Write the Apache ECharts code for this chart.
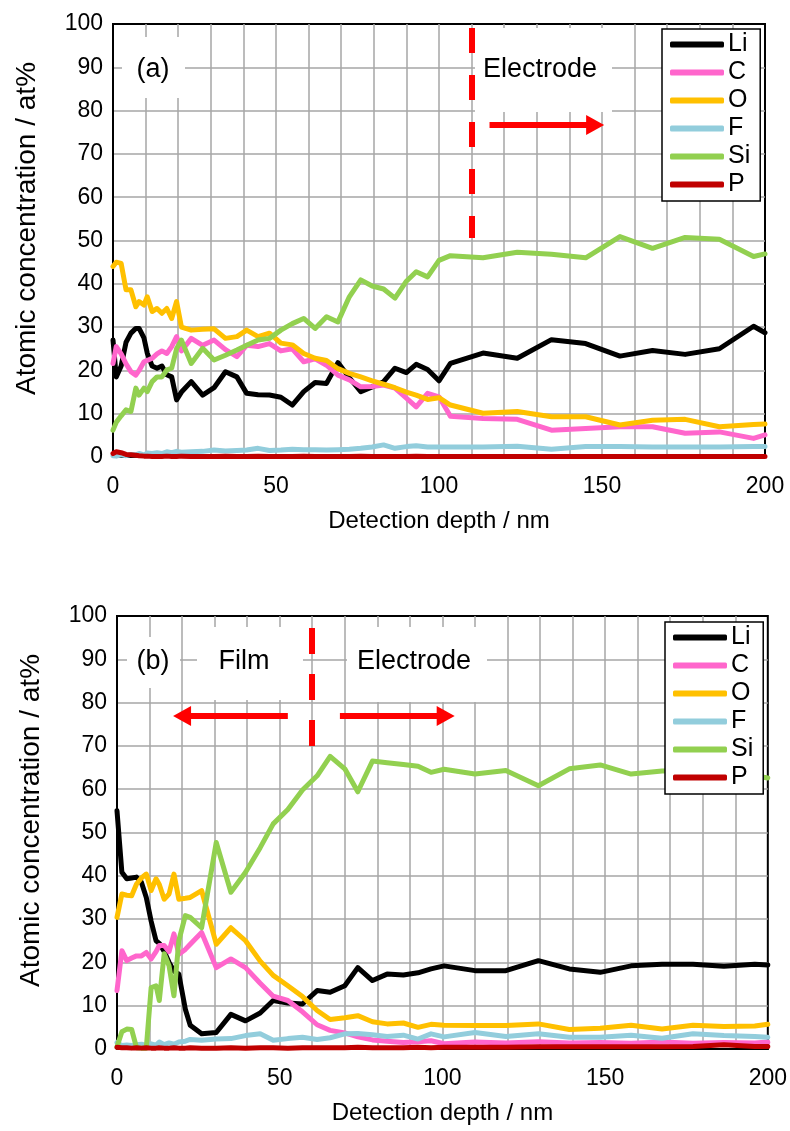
<!DOCTYPE html>
<html>
<head>
<meta charset="utf-8">
<title>Depth profile</title>
<script src="https://cdn.jsdelivr.net/npm/echarts@6/dist/echarts.min.js"></script>
<style>
  html, body { margin: 0; padding: 0; background: #fff; }
  #chart { width: 790px; height: 1131px; }
</style>
</head>
<body>
<div id="chart"></div>
<script>
// panel (a)
var depthA = [0, 1, 2.5, 4, 5.5, 7, 8, 9.5, 10.5, 12, 13.5, 15, 16.5, 18, 19.5, 21, 24, 27.5, 31, 34.5,
  38, 41, 44.5, 48, 51.5, 55, 58.5, 62, 65.5, 69, 72.5, 76, 79.5, 83, 86.5, 90, 93, 96.5, 100, 103.5,
  113.5, 124, 134.5, 145, 155.5, 165.5, 175.5, 186, 196.5, 200];
var liA = [27, 18.5, 21, 26.5, 28.6, 29.7, 29.7, 27.5, 24, 21, 20.5, 21, 19, 18.5, 13.2, 15, 17.4, 14.3, 16, 19.7,
  18.5, 14.7, 14.4, 14.3, 13.8, 12, 15.1, 17.2, 17, 21.8, 18.3, 15.1, 16.2, 17.4, 20.5, 19.5, 21.4, 20.2, 17.6, 21.6,
  24, 22.8, 27.1, 26.2, 23.3, 24.6, 23.7, 25, 30.2, 28.7];
var cA = [21.6, 25.5, 23.8, 21.5, 19.7, 18.9, 20, 22, 22.3, 22.8, 23.8, 24.5, 23.9, 25.5, 27.8, 24.5, 27.4, 25.8, 27, 24.8,
  23.2, 25.8, 25.5, 26.2, 24.5, 25, 22, 22.7, 21.2, 18.9, 17.8, 16.2, 16.3, 16.6, 15.9, 13.6, 11.6, 14.7, 13.9, 9.4,
  8.9, 8.7, 6.2, 6.6, 7, 7, 5.5, 5.8, 4.3, 5.1];
var oA = [44, 45, 44.7, 38.6, 38.6, 34.7, 35.9, 35.1, 37, 33.6, 34.3, 33.2, 34.3, 32, 35.9, 30, 29.3, 29.5, 29.6, 27.4,
  27.8, 29.3, 27.8, 28.6, 26.3, 25.9, 23.9, 22.8, 22.3, 20.4, 19.3, 18.5, 17.6, 16.8, 16, 15, 14.3, 13.3, 13.7, 12,
  10.1, 10.5, 9.3, 9.3, 7.4, 8.5, 8.7, 7, 7.5, 7.6];
var fA = [0.3, 0.2, 0.5, 0.3, 0.6, 0.5, 0.8, 0.5, 0.9, 0.8, 1.0, 0.8, 1.2, 1.0, 1.3, 1.1, 1.2, 1.3, 1.6, 1.4,
  1.5, 1.6, 2.0, 1.5, 1.6, 1.8, 1.7, 1.7, 1.6, 1.7, 1.8, 2.0, 2.3, 2.8, 2.0, 2.4, 2.6, 2.3, 2.3, 2.3,
  2.3, 2.5, 1.8, 2.4, 2.4, 2.3, 2.3, 2.3, 2.4, 2.4];
var siA = [6.2, 8, 9.5, 10.9, 10.5, 15.9, 14.3, 15.9, 15.1, 17.4, 18.5, 18.5, 20.1, 20.5, 25, 27, 21.6, 25.1, 22.4, 23.5,
  24.7, 25.8, 27, 27.4, 29.3, 30.8, 32, 29.7, 32.4, 31.2, 37, 40.9, 39.5, 38.8, 36.7, 40.6, 42.8, 41.6, 45.4, 46.5,
  46, 47.3, 46.8, 46, 50.9, 48.2, 50.7, 50.3, 46.3, 46.9];
var pA = [0.8, 1.2, 1.0, 0.6, 0.5, 0.4, 0.3, 0.2, 0.2, 0.1, 0.1, 0.1, 0.2, 0.1, 0.1, 0.2, 0.1, 0.1, 0.1, 0.2,
  0.1, 0.1, 0.2, 0.1, 0.1, 0.1, 0.2, 0.1, 0.1, 0.1, 0.1, 0.2, 0.1, 0.1, 0.1, 0.1, 0.2, 0.1, 0.1, 0.1,
  0.1, 0.1, 0.1, 0.1, 0.1, 0.1, 0.1, 0.1, 0.1, 0.1];

// panel (b)
var depthB = [0, 1.5, 3, 4.5, 6, 7.5, 9, 10.5, 12, 13, 14.5, 16, 17.5, 19, 21, 22.5, 26, 30.5, 35, 39.5,
  44, 48, 52.5, 57, 61.5, 65.5, 70, 74, 78.5, 83, 88, 92.5, 96.5, 100.5, 110, 119.5, 129.5, 139, 148.5, 158,
  167.5, 177, 186.5, 196, 200];
var liB = [55, 40.8, 39.3, 39.5, 39.7, 38.5, 35, 29.5, 25, 24.4, 22.5, 20, 18, 17.3, 9.2, 5.5, 3.5, 3.8, 8, 6.5,
  8.3, 11.2, 10.6, 10.4, 13.5, 13.1, 14.6, 18.8, 15.8, 17.3, 17.1, 17.6, 18.5, 19.2, 18.1, 18.1, 20.4, 18.5, 17.7, 19.2,
  19.6, 19.6, 19.1, 19.6, 19.4];
var cB = [13.5, 22.7, 20.4, 21, 21.5, 21.5, 22.3, 20.8, 22.5, 23.9, 23.9, 22.5, 26.6, 21.9, 23, 24.2, 26.9, 18.8, 20.8, 18.8,
  15.2, 12.2, 11.2, 8.6, 5.6, 4.3, 3.7, 2.8, 2.1, 1.8, 1.5, 1.7, 1.9, 1.2, 1.6, 1.4, 1.7, 1.4, 1.5, 1.3,
  1.6, 1.3, 1.5, 1.4, 1.6];
var oB = [30.4, 35.8, 35.5, 35.4, 38.1, 39.5, 40.4, 36.6, 39.3, 38, 34.6, 35.8, 40.4, 34.6, 34.8, 35, 36.6, 24.2, 28, 25,
  20.3, 17, 14.6, 12.1, 8.9, 6.8, 7.2, 7.7, 6.3, 5.8, 6, 5, 5.7, 5.5, 5.4, 5.4, 5.8, 4.5, 4.8, 5.5,
  4.6, 5.5, 5.2, 5.3, 5.7];
var fB = [1.5, 0.8, 0.9, 0.8, 1, 1.1, 0.8, 1.2, 0.9, 1.6, 1, 1.4, 1.1, 1.6, 1.8, 2.2, 2, 2.3, 2.4, 3.1,
  3.5, 2, 2.4, 2.7, 2.2, 2.6, 3.5, 3.6, 3.3, 2.9, 3.2, 2.3, 3.5, 2.8, 3.8, 2.9, 3.5, 2.7, 2.7, 3.2,
  2.5, 3.5, 3.1, 2.9, 2.7];
var siB = [0.5, 4, 4.6, 4.5, 0.3, 0.2, 0.2, 14.2, 14.6, 11.2, 22, 19.2, 12.3, 25, 30.8, 30.4, 28, 47.7, 36.2, 40.8,
  46.5, 52, 55.3, 59.8, 63.1, 67.6, 64.7, 59.4, 66.5, 66.1, 65.7, 65.3, 63.9, 64.6, 63.5, 64.3, 60.8, 64.7, 65.6, 63.5,
  64.2, 64.3, 63.6, 63.1, 62.6];
var pB = [0.4, 0.3, 0.3, 0.2, 0.3, 0.2, 0.3, 0.2, 0.2, 0.3, 0.2, 0.2, 0.3, 0.2, 0.2, 0.3, 0.2, 0.2, 0.3, 0.2,
  0.3, 0.3, 0.2, 0.3, 0.3, 0.3, 0.3, 0.4, 0.3, 0.3, 0.3, 0.4, 0.3, 0.4, 0.4, 0.4, 0.5, 0.5, 0.5, 0.5,
  0.5, 0.6, 1.0, 0.6, 0.6];

var elements = ["Li", "C", "O", "F", "Si", "P"];
var colors = ["#000000", "#FF66CC", "#FFC000", "#92CDDC", "#92D050", "#C00000"];

var FONT = "Arial, 'Liberation Sans', sans-serif";

function zip(xs, ys) {
  return xs.map(function (x, i) { return [x, ys[i]]; });
}

function makeSeries(idx, depth, arrs) {
  return arrs.map(function (vals, k) {
    return {
      name: elements[k],
      type: "line",
      xAxisIndex: idx,
      yAxisIndex: idx,
      data: zip(depth, vals),
      symbol: "none",
      clip: false,
      color: colors[k],
      lineStyle: { width: 5, color: colors[k], join: "round", cap: "round" }
    };
  });
}

function xAxisOpt(idx) {
  return {
    gridIndex: idx,
    type: "value",
    min: 0,
    max: 200,
    interval: 50,
    name: "Detection depth / nm",
    nameLocation: "middle",
    nameGap: 52,
    nameTextStyle: { fontFamily: FONT, fontSize: 24, color: "#000" },
    axisLine: { show: true, lineStyle: { color: "#000", width: 2 } },
    axisTick: { show: false },
    minorTick: { show: false, splitNumber: 5 },
    axisLabel: { fontFamily: FONT, fontSize: 23, color: "#000", margin: 18 },
    splitLine: { show: true, showMinLine: false, showMaxLine: false, lineStyle: { color: "#a6a6a6", width: 1.5 } },
    minorSplitLine: { show: true, lineStyle: { color: "#a6a6a6", width: 1.5 } }
  };
}

function yAxisOpt(idx) {
  return {
    gridIndex: idx,
    type: "value",
    min: 0,
    max: 100,
    interval: 10,
    name: "Atomic concentration / at%",
    nameLocation: "middle",
    nameGap: 72,
    nameTextStyle: { fontFamily: FONT, fontSize: 28, color: "#000", padding: [0, 0, 0, 24] },
    axisLine: { show: true, lineStyle: { color: "#000", width: 2 } },
    axisTick: { show: false },
    axisLabel: { fontFamily: FONT, fontSize: 23, color: "#000", margin: 10 },
    splitLine: { show: true, showMinLine: false, showMaxLine: false, lineStyle: { color: "#a6a6a6", width: 1.5 } }
  };
}

function legendOpt(left, top) {
  return {
    orient: "vertical",
    left: left,
    top: top,
    data: elements,
    icon: "roundRect",
    itemWidth: 54,
    itemHeight: 6,
    itemGap: 3,
    padding: [3, 10, 4, 8],
    backgroundColor: "#fff",
    borderColor: "#000",
    borderWidth: 1.5,
    selectedMode: false,
    textStyle: { fontFamily: FONT, fontSize: 25, color: "#000", lineHeight: 22, padding: [0, 0, 0, -1] }
  };
}

// red dashed boundary and arrows, in data coordinates
function markers(lines) {
  return {
    silent: true,
    label: { show: false },
    data: lines
  };
}
var dashA = [[{ coord: [110, 99.1], symbol: "none", lineStyle: { color: "#FF0000", width: 6, type: [25, 22] } },
  { coord: [110, 50.6], symbol: "none" }]];
var arrowA = [[{ coord: [115.5, 76.7], symbol: "none", lineStyle: { color: "#FF0000", width: 6, type: "solid" } },
  { coord: [147.9, 76.7], symbol: "triangle", symbolSize: [20, 18] }]];
var dashB = [[{ coord: [60, 97.2], symbol: "none", lineStyle: { color: "#FF0000", width: 6, type: [26, 20] } },
  { coord: [60, 70], symbol: "none" }]];
var arrowsB = [
  [{ coord: [52.5, 76.9], symbol: "none", lineStyle: { color: "#FF0000", width: 6, type: "solid" } },
    { coord: [20, 76.9], symbol: "triangle", symbolSize: [20, 18] }],
  [{ coord: [68.5, 76.9], symbol: "none", lineStyle: { color: "#FF0000", width: 6, type: "solid" } },
    { coord: [101, 76.9], symbol: "triangle", symbolSize: [20, 18] }]
];

var seriesA = makeSeries(0, depthA, [liA, cA, oA, fA, siA, pA]);
var seriesB = makeSeries(1, depthB, [liB, cB, oB, fB, siB, pB]);
seriesA[0].markLine = markers(dashA.concat(arrowA));
seriesB[0].markLine = markers(dashB.concat(arrowsB));

function box(x, y, w, h) {
  return { type: "rect", shape: { x: x, y: y, width: w, height: h }, style: { fill: "#fff" }, z: 100 };
}
function label(text, x, y, align) {
  return {
    type: "text", x: x, y: y, z: 101,
    style: { text: text, fill: "#000", font: "27px " + FONT, align: align, verticalAlign: "middle" }
  };
}

var chart = echarts.init(document.getElementById("chart"), null, { renderer: "canvas" });
chart.setOption({
  animation: false,
  backgroundColor: "#fff",
  grid: [
    { left: 113, top: 24, width: 652, height: 433, show: true, borderColor: "#000", borderWidth: 2, backgroundColor: "transparent" },
    { left: 117, top: 616, width: 652, height: 433, show: true, borderColor: "#000", borderWidth: 2, backgroundColor: "transparent" }
  ],
  xAxis: [xAxisOpt(0), xAxisOpt(1)],
  yAxis: [yAxisOpt(0), yAxisOpt(1)],
  legend: [legendOpt(662, 29), legendOpt(665, 622)],
  graphic: [
    box(122, 37, 63, 61), label("(a)", 153, 70, "center"),
    box(475, 28, 137, 84), label("Electrode", 483, 70, "left"),
    box(127, 637, 53, 51), label("(b)", 153, 662, "center"),
    box(197, 627, 106, 73), label("Film", 244, 662, "center"),
    box(347, 627, 140, 75), label("Electrode", 357, 662, "left")
  ],
  series: seriesA.concat(seriesB)
});
</script>
</body>
</html>
